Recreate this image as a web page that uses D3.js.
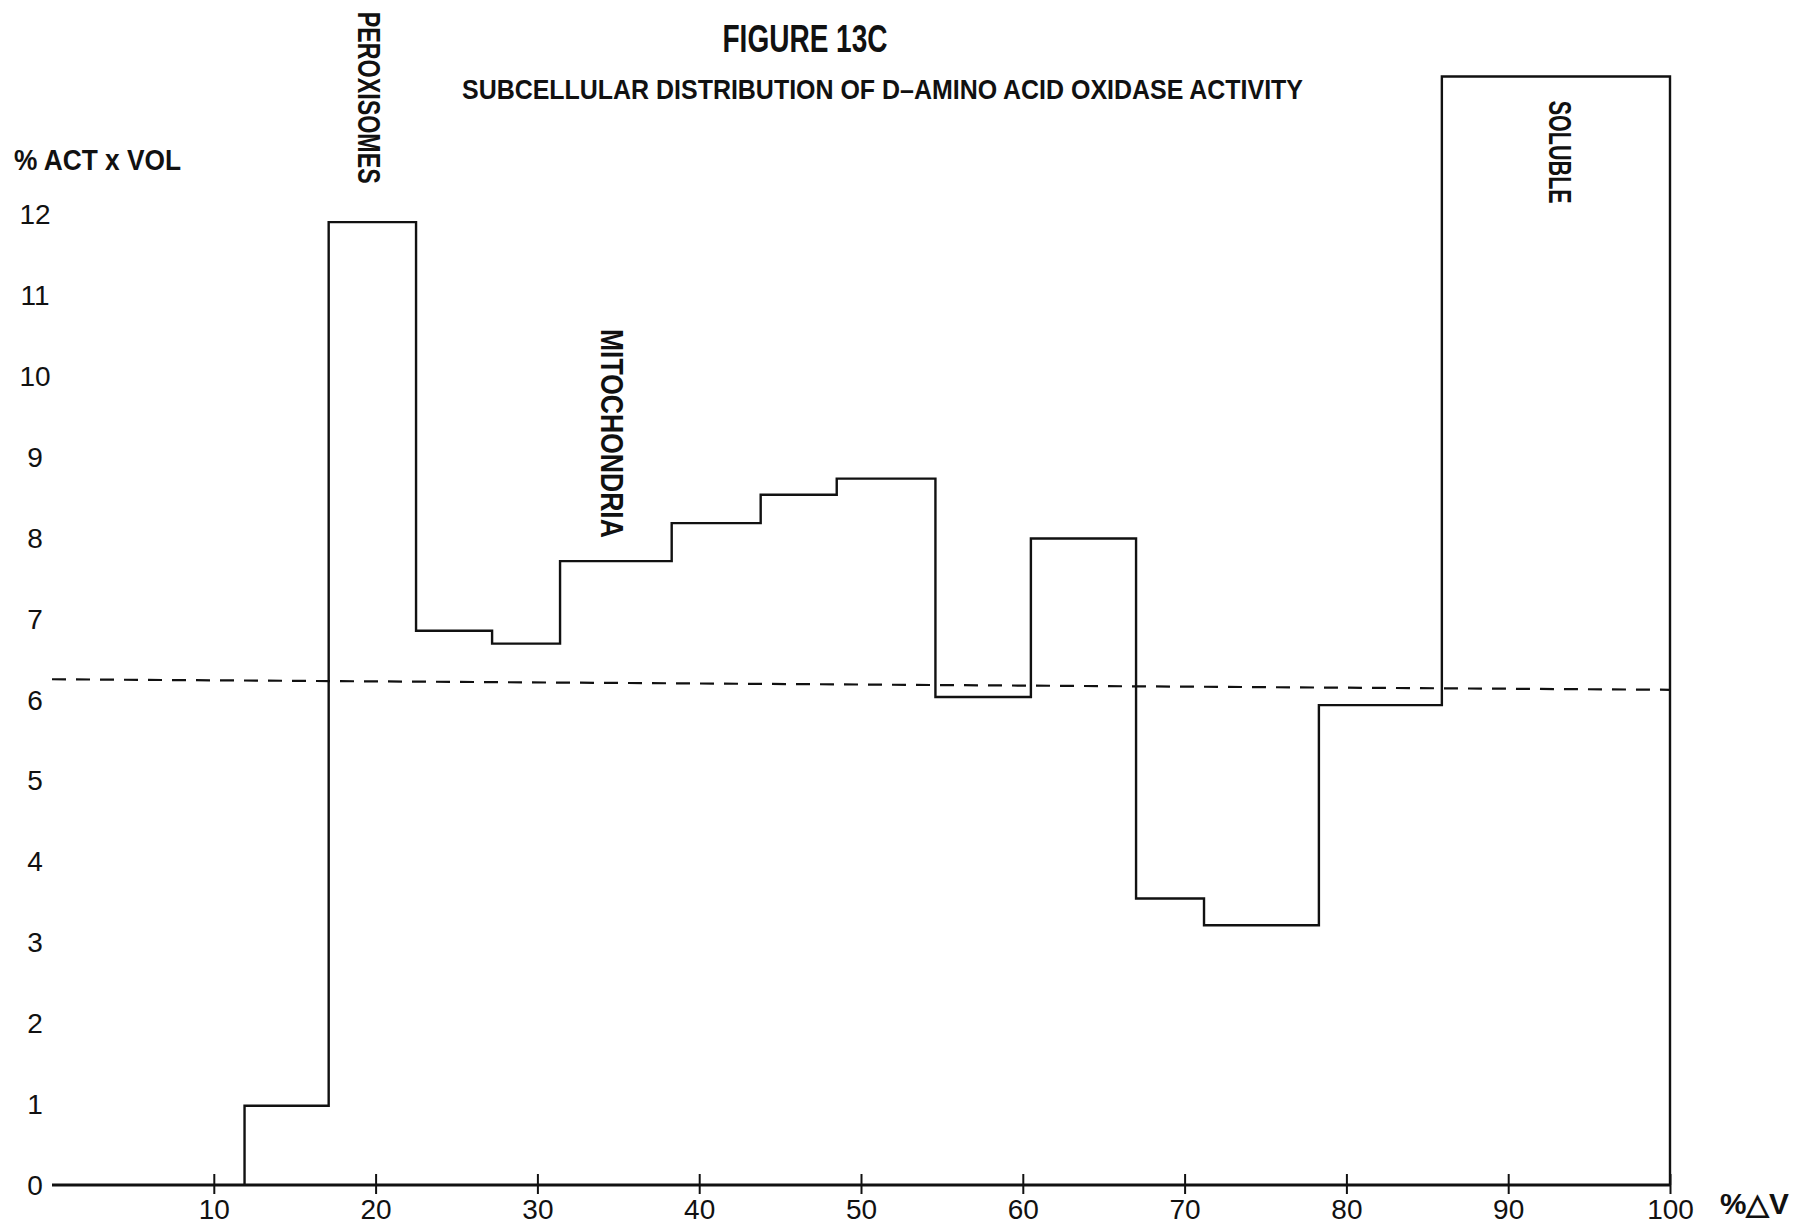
<!DOCTYPE html>
<html>
<head>
<meta charset="utf-8">
<script src="https://cdn.jsdelivr.net/npm/d3@7"></script>
<style>
  html, body { margin: 0; padding: 0; background: #fff; }
  svg { display: block; }
  text { fill: #111; }
</style>
</head>
<body>
<svg id="chart" width="1796" height="1227"></svg>
<script>
// ---- data ----
const titleText = "FIGURE 13C";
const subtitleText = "SUBCELLULAR DISTRIBUTION OF D\u2013AMINO ACID OXIDASE ACTIVITY";
const yAxisTitle = "% ACT x VOL";
const xAxisTitle = "%\u25B3V";

// fraction boundaries along the cumulative volume axis (% ΔV)
const stepEdges = [11.9, 17.1, 22.5, 27.2, 31.4, 38.3, 43.8, 48.5, 54.6, 60.5, 67.0, 71.2, 78.3, 85.9, 100];
// % activity x volume for each fraction (one value per interval between edges)
const stepValues = [0.98, 11.9, 6.85, 6.69, 7.71, 8.18, 8.53, 8.73, 6.03, 7.99, 3.54, 3.21, 5.93, 13.7];

// dashed reference line (endpoints at x = 0 and x = 100)
const refX = [0, 100];
const refY = [6.25, 6.12];

const xTicks = [10, 20, 30, 40, 50, 60, 70, 80, 90, 100];
const yTicks = [0, 1, 2, 3, 4, 5, 6, 7, 8, 9, 10, 11, 12];

const regionLabels = ["PEROXISOMES", "MITOCHONDRIA", "SOLUBLE"];
const regionLabelX = [18.9, 33.9, 92.5];   // data-x of each label
const regionLabelY = [14.5, 10.58, 13.4];  // data-y where each label begins

// ---- drawing ----
const svg = d3.select("#chart");
const x = d3.scaleLinear().domain([0, 100]).range([52, 1670]);
const y = d3.scaleLinear().domain([0, 12]).range([1185, 214]);

const FONT = "'Liberation Sans Narrow', 'Liberation Sans', Arial, sans-serif";

// title
svg.append("text")
  .attr("x", 805).attr("y", 52)
  .attr("text-anchor", "middle")
  .attr("font-family", FONT).attr("font-weight", "bold").attr("font-size", 38)
  .attr("textLength", 165).attr("lengthAdjust", "spacingAndGlyphs")
  .text(titleText);

svg.append("text")
  .attr("x", 462).attr("y", 99)
  .attr("font-family", FONT).attr("font-weight", "bold").attr("font-size", 28)
  .attr("textLength", 841).attr("lengthAdjust", "spacingAndGlyphs")
  .text(subtitleText);

// y axis title
svg.append("text")
  .attr("x", 14).attr("y", 170)
  .attr("font-family", FONT).attr("font-weight", "bold").attr("font-size", 29)
  .attr("textLength", 167).attr("lengthAdjust", "spacingAndGlyphs")
  .text(yAxisTitle);

// x axis title
svg.append("text")
  .attr("x", 1720).attr("y", 1214)
  .attr("font-family", FONT).attr("font-weight", "bold").attr("font-size", 29)
  .attr("textLength", 69).attr("lengthAdjust", "spacingAndGlyphs")
  .text(xAxisTitle);

// y tick labels (no axis line)
svg.append("g").selectAll("text").data(yTicks).join("text")
  .attr("x", 35).attr("y", d => y(d))
  .attr("dy", "0.36em")
  .attr("text-anchor", "middle")
  .attr("font-family", FONT).attr("font-size", 28)
  .text(d => d);

// x axis
const xAxis = d3.axisBottom(x).tickValues(xTicks).tickSize(0).tickPadding(0);
const gx = svg.append("g").attr("transform", `translate(0,${y(0)})`).call(xAxis);
gx.select(".domain").attr("stroke", "#111").attr("stroke-width", 3)
  .attr("d", `M${x(0)},0H${x(100)}`);
gx.selectAll(".tick line").remove();
gx.selectAll(".tick").append("line")
  .attr("y1", -11).attr("y2", 9)
  .attr("stroke", "#111").attr("stroke-width", 2);
gx.selectAll(".tick text")
  .attr("y", 14).attr("dy", "0.71em")
  .attr("font-family", FONT).attr("font-size", 28)
  .attr("fill", "#111");

// dashed reference line
svg.append("path")
  .datum(refX.map((v, i) => [v, refY[i]]))
  .attr("fill", "none").attr("stroke", "#111").attr("stroke-width", 2.2)
  .attr("stroke-dasharray", "14,10")
  .attr("d", d3.line().x(d => x(d[0])).y(d => y(d[1])));

// step outline
const pts = [[stepEdges[0], 0]];
stepValues.forEach((v, i) => {
  pts.push([stepEdges[i], v]);
  pts.push([stepEdges[i + 1], v]);
});
pts.push([stepEdges[stepEdges.length - 1], 0]);

svg.append("path")
  .datum(pts)
  .attr("fill", "none").attr("stroke", "#111").attr("stroke-width", 2.4)
  .attr("stroke-linejoin", "miter")
  .attr("d", d3.line().x(d => x(d[0])).y(d => y(d[1])));

// rotated region labels
const labelLengths = [172, 209, 103];
regionLabels.forEach((t, i) => {
  const px = x(regionLabelX[i]), py = y(regionLabelY[i]);
  svg.append("text")
    .attr("transform", `translate(${px},${py}) rotate(90)`)
    .attr("x", 0).attr("y", 0)
    .attr("font-family", FONT).attr("font-weight", "bold").attr("font-size", 31)
    .attr("textLength", labelLengths[i]).attr("lengthAdjust", "spacingAndGlyphs")
    .text(t);
});
</script>
</body>
</html>
